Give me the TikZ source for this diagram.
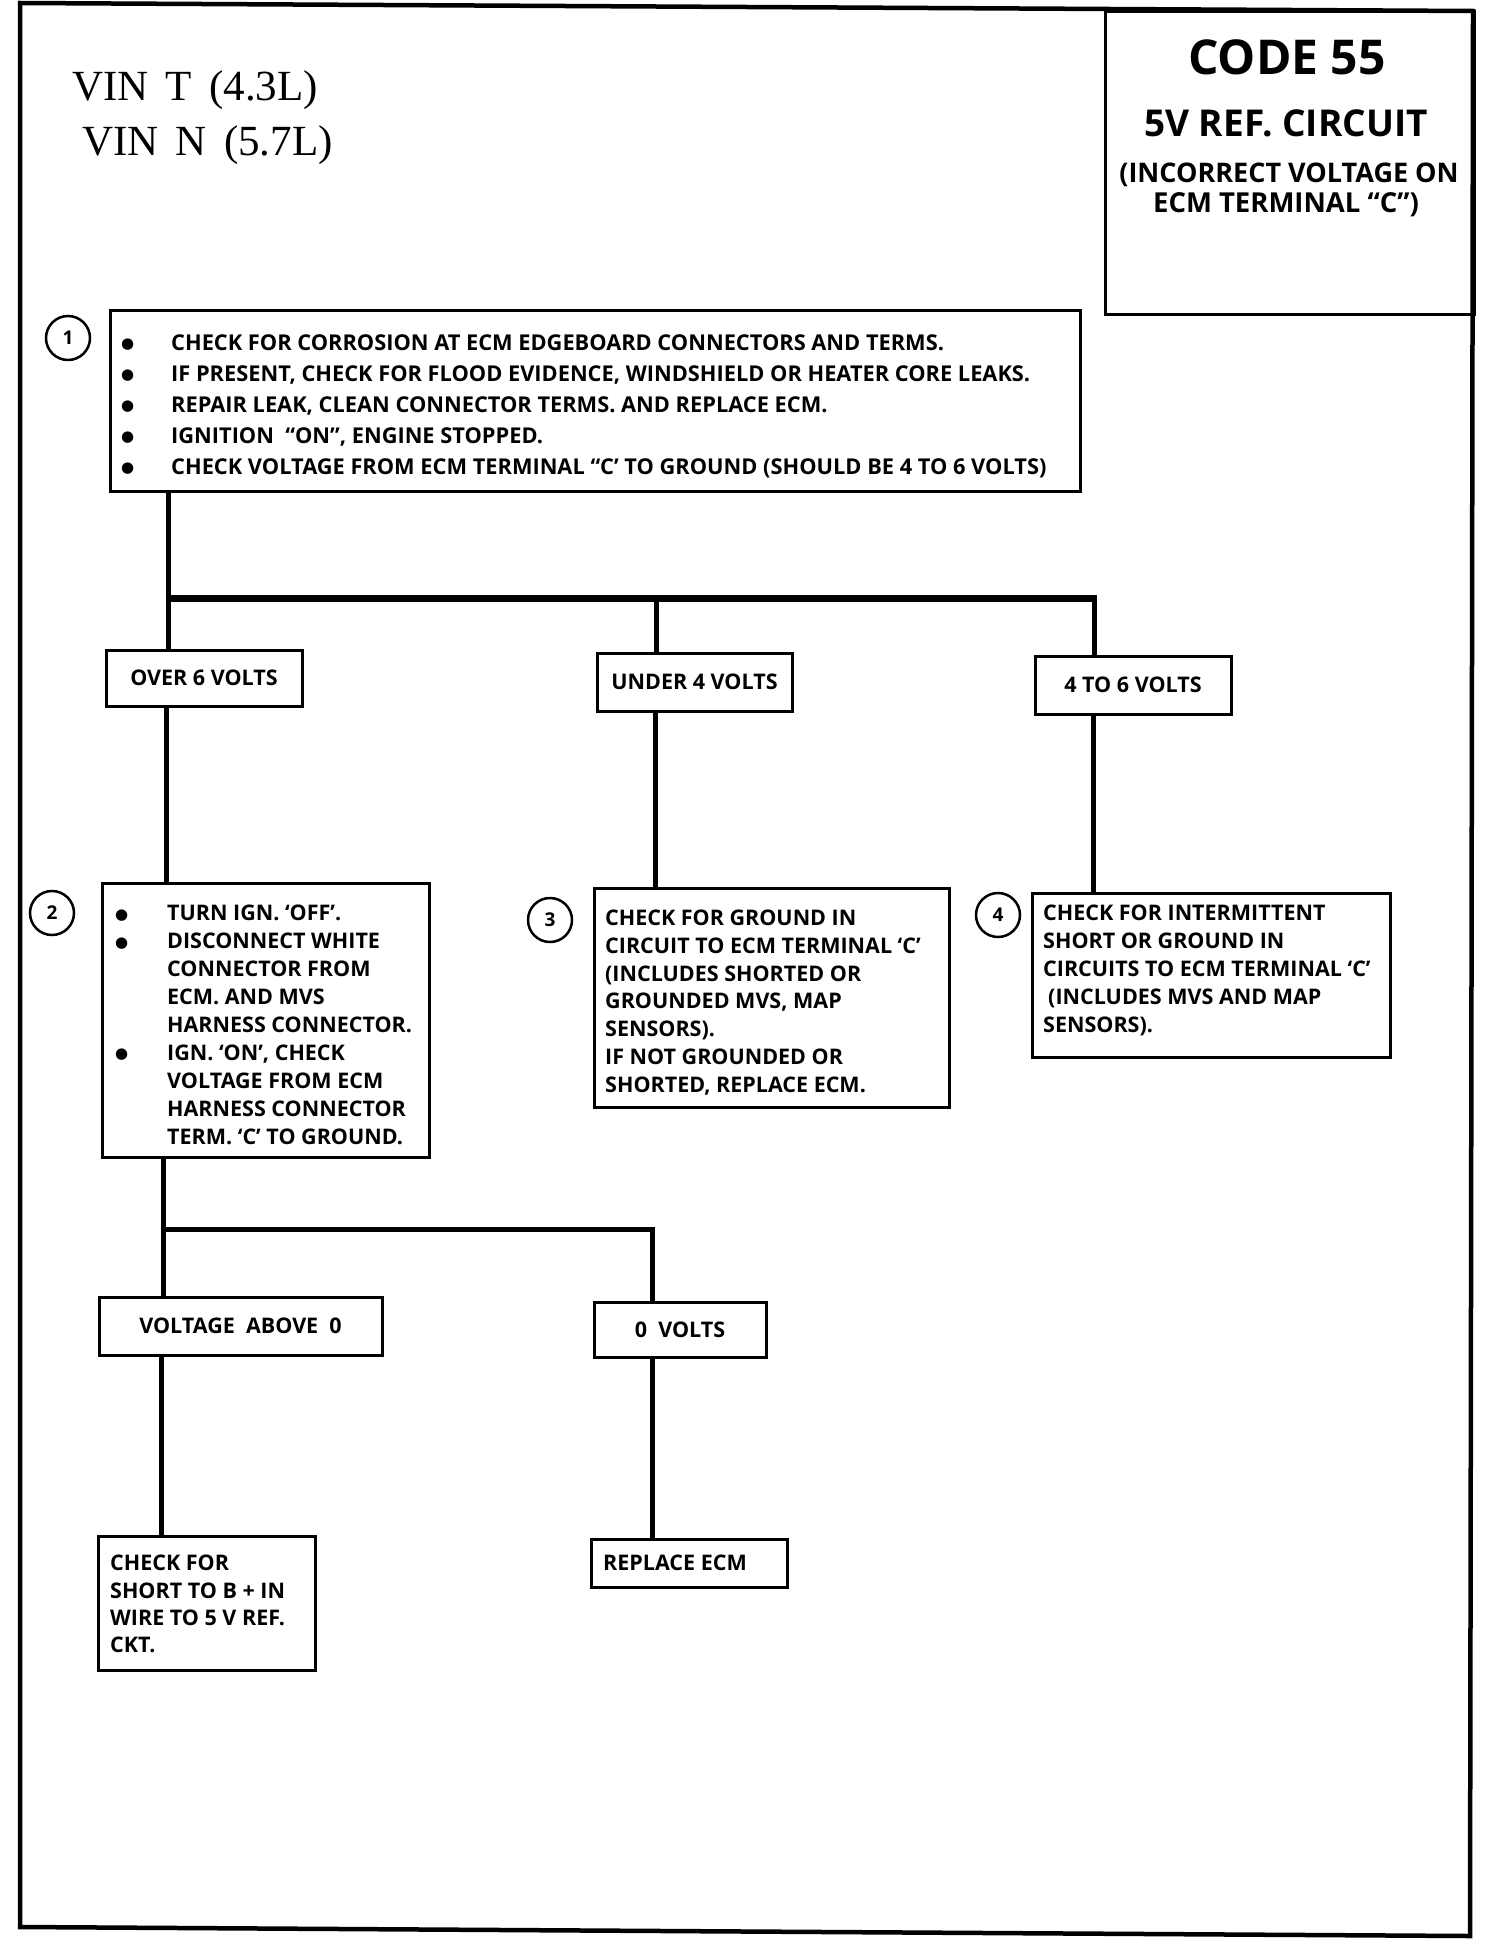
\documentclass[tikz,border=0pt]{standalone}
\usepackage{fontspec}
\setmainfont{Open Sans}
\newfontfamily\vinfont{Liberation Serif}
\newfontfamily\bulfont{DejaVu Sans}
\newcommand{\mybul}[1][50pt]{\makebox[#1][l]{\raisebox{1.5pt}{\bulfont\fontsize{15}{15}\selectfont ●}}}
\begin{document}
\begin{tikzpicture}[x=1pt,y=-1pt,
  border/.style={line width=4.5pt, line join=miter},
  box/.style={draw, line width=3pt, rectangle, inner sep=0pt, fill=white,
    font=\bfseries\fontsize{21.5}{21.5}\selectfont},
  txt/.style={inner sep=0pt, align=left, anchor=north west},
  conn/.style={line width=5pt, line join=miter},
  hconn/.style={line width=7pt},
  num/.style={draw, circle, line width=2.5pt, minimum size=44pt, inner sep=0pt,
    font=\bfseries\fontsize{19}{19}\selectfont},
  ttl/.style={inner sep=0pt, anchor=base, font=\bfseries},
]
\useasboundingbox (0,0) rectangle (1504,1940);
\fill[white] (0,0) rectangle (1504,1940);
% outer border
\draw[border] (20,3) -- (1473,11) -- (1470,1936) -- (20,1927) -- cycle;
% title box
\node[draw, line width=3pt, minimum width=369pt, minimum height=303pt, inner sep=0pt, anchor=north west] (title) at (1104,10) {};
\node[ttl, font=\bfseries\fontsize{48}{48}\selectfont] (t1) at (1287,75) {CODE 55};
\node[ttl, font=\bfseries\fontsize{37}{37}\selectfont] (t2) at (1286,137) {5V REF. CIRCUIT};
\node[ttl, font=\bfseries\fontsize{27}{27}\selectfont] (t3) at (1289,182) {(INCORRECT VOLTAGE ON};
\node[ttl, font=\bfseries\fontsize{27.5}{27.5}\selectfont] (t4) at (1286,212) {ECM TERMINAL “C”)};
% VIN text
\node[inner sep=0pt, anchor=base west, font=\vinfont\fontsize{43}{43}\selectfont] (vin1) at (72,101) {VIN\hspace{0.4em}T\hspace{0.4em}(4.3L)};
\node[inner sep=0pt, anchor=base west, font=\vinfont\fontsize{43}{43}\selectfont] (vin2) at (82,156) {VIN\hspace{0.4em}N\hspace{0.4em}(5.7L)};

% boxes
\node[box, minimum width=970pt, minimum height=181pt] (b1) at (595,400.5) {};
\node[txt, font=\bfseries\fontsize{21.8}{31}\selectfont] (b1t) at (121,334) {%
\mybul CHECK FOR CORROSION AT ECM EDGEBOARD CONNECTORS AND TERMS.\\
\mybul IF PRESENT, CHECK FOR FLOOD EVIDENCE, WINDSHIELD OR HEATER CORE LEAKS.\\
\mybul REPAIR LEAK, CLEAN CONNECTOR TERMS. AND REPLACE ECM.\\
\mybul IGNITION\ \ “ON”, ENGINE STOPPED.\\
\mybul CHECK VOLTAGE FROM ECM TERMINAL “C’ TO GROUND (SHOULD BE 4 TO 6 VOLTS)};
\node[num] (c1) at (68,338) {1};

\node[box, minimum width=196pt, minimum height=56pt] (over6) at (204,678) {OVER 6 VOLTS};
\node[box, minimum width=195pt, minimum height=58pt] (under4) at (694.5,682) {UNDER 4 VOLTS};
\node[box, minimum width=196pt, minimum height=58pt] (fourto6) at (1133,685) {4 TO 6 VOLTS};

\node[box, minimum width=327pt, minimum height=274pt] (b2) at (265.5,1020) {};
\node[txt, font=\bfseries\fontsize{21.5}{27.9}\selectfont] (b2t) at (115,905) {%
\mybul[52pt]TURN IGN. ‘OFF’.\\
\mybul[52pt]DISCONNECT WHITE\\
\hspace*{52pt}CONNECTOR FROM\\
\hspace*{52pt}ECM. AND MVS\\
\hspace*{52pt}HARNESS CONNECTOR.\\
\mybul[52pt]IGN. ‘ON’, CHECK\\
\hspace*{52pt}VOLTAGE FROM ECM\\
\hspace*{52pt}HARNESS CONNECTOR\\
\hspace*{52pt}TERM. ‘C’ TO GROUND.};
\node[num] (c2) at (52,913) {2};

\node[box, minimum width=355pt, minimum height=219pt] (b3) at (771.5,997.5) {};
\node[txt, font=\bfseries\fontsize{21.5}{27.7}\selectfont] (b3t) at (605,910) {%
CHECK FOR GROUND IN\\
CIRCUIT TO ECM TERMINAL ‘C’\\
(INCLUDES SHORTED OR\\
GROUNDED MVS, MAP\\
SENSORS).\\
IF NOT GROUNDED OR\\
SHORTED, REPLACE ECM.};
\node[num] (c3) at (550,920) {3};

\node[box, minimum width=358pt, minimum height=164pt] (b4) at (1211,975) {};
\node[txt, font=\bfseries\fontsize{21.5}{27.8}\selectfont] (b4t) at (1043,905) {%
CHECK FOR INTERMITTENT\\
SHORT OR GROUND IN\\
CIRCUITS TO ECM TERMINAL ‘C’\\
\hspace*{5pt}(INCLUDES MVS AND MAP\\
SENSORS).};
\node[num] (c4) at (998,915) {4};

\node[box, minimum width=283pt, minimum height=58pt] (va0) at (240.5,1326) {VOLTAGE\ \ ABOVE\ \ 0};
\node[box, minimum width=172pt, minimum height=55pt] (zero) at (680,1329.5) {0\ \ VOLTS};

\node[box, minimum width=217pt, minimum height=134pt] (chk) at (206.5,1603) {};
\node[txt, font=\bfseries\fontsize{21.5}{27.3}\selectfont] (chkt) at (110,1555) {%
CHECK FOR\\
SHORT TO B + IN\\
WIRE TO 5 V REF.\\
CKT.};

\node[box, minimum width=196pt, minimum height=48pt] (repl) at (689,1563) {};
\node[inner sep=0pt, anchor=west, font=\bfseries\fontsize{21.5}{21.5}\selectfont] (replt) at (603,1563) {REPLACE ECM};

% connectors
\coordinate (j1) at (168,598);
\coordinate (j2) at (656,598);
\coordinate (j3) at (1094,598);
\draw[conn] (b1.south -| j1) -- (j1);
\draw[hconn] ([xshift=-2.5pt]j1) -- ([xshift=2.5pt]j3);
\draw[conn] (j1) -- (j1 |- over6.north);
\draw[conn] (j2) -- (j2 |- under4.north);
\draw[conn] (j3) -- (j3 |- fourto6.north);

\coordinate (k1) at (166,780);
\coordinate (k2) at (655,800);
\coordinate (k3) at (1093,800);
\draw[conn] (over6.south -| k1) -- (b2.north -| k1);
\draw[conn] (under4.south -| k2) -- (b3.north -| k2);
\draw[conn] (fourto6.south -| k3) -- (b4.north -| k3);

\coordinate (m1) at (163,1229);
\coordinate (m2) at (652,1229);
\draw[conn] (b2.south -| m1) -- (m1 |- va0.north);
\draw[conn] ([xshift=-2.5pt]m1) -- (m2) -- (m2 |- zero.north);

\coordinate (n1) at (161,1450);
\draw[conn] (va0.south -| n1) -- (chk.north -| n1);
\draw[conn] (zero.south -| m2) -- (repl.north -| m2);
\end{tikzpicture}
\end{document}
